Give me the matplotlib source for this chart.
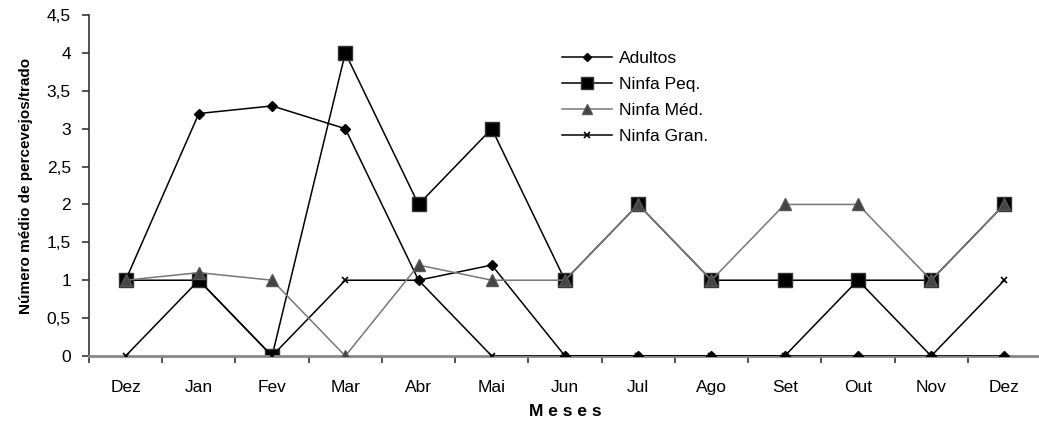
import numpy as np
import matplotlib.pyplot as plt

plt.rcParams['font.family'] = ['Liberation Sans', 'DejaVu Sans']

meses = ['Dez', 'Jan', 'Fev', 'Mar', 'Abr', 'Mai', 'Jun', 'Jul', 'Ago', 'Set', 'Out', 'Nov', 'Dez']
adultos = [1, 3.2, 3.3, 3.0, 1.0, 1.2, 0, 0, 0, 0, 0, 0, 0]
ninfa_peq = [1, 1, 0, 4, 2, 3, 1, 2, 1, 1, 1, 1, 2]
ninfa_med = [1, 1.1, 1, 0, 1.2, 1, 1, 2, 1, 2, 2, 1, 2]
ninfa_gran = [0, 1, 0, 1, 1, 0, 0, 0, 0, 0, 1, 0, 1]
yticks = [0, 0.5, 1, 1.5, 2, 2.5, 3, 3.5, 4, 4.5]
ytick_labels = ['0', '0,5', '1', '1,5', '2', '2,5', '3', '3,5', '4', '4,5']

fig = plt.figure(figsize=(10.39, 4.32), dpi=100)
ax = fig.add_axes([89 / 1039, 76 / 432, 952 / 1039, 341 / 432])

x = np.arange(len(meses))
ax.plot(x, adultos, color='black', lw=1.1, marker='D', ms=5, mfc='black', mec='black',
        label='Adultos', zorder=3)
ax.plot(x, ninfa_peq, color='black', lw=1.1, marker='s', ms=10, mfc='black', mec='#333333',
        label='Ninfa Peq.', zorder=2)
ax.plot(x, ninfa_med, color='#777777', lw=1.1, marker='^', ms=8, mfc='#444444', mec='#555555',
        label='Ninfa Méd.', zorder=4)
ax.plot(x, ninfa_gran, color='black', lw=1.1, marker='x', ms=5, mew=1.2, mec='black',
        label='Ninfa Gran.', zorder=3)

ax.set_xlim(-0.5, len(meses) - 0.5)
ax.set_ylim(0, 4.5)
ax.set_xticks(x)
ax.set_xticklabels(meses, fontsize=12.5)
ax.set_xticks(np.arange(-0.5, len(meses), 1), minor=True)
ax.tick_params(axis='x', which='major', length=0, pad=17)
ax.tick_params(axis='x', which='minor', length=5, width=1.2, color='#333333', direction='out')
ax.set_yticks(yticks)
ax.set_yticklabels(ytick_labels, fontsize=12.5)
ax.tick_params(axis='y', length=5, width=1.2, color='#333333', direction='out', pad=8)

for s in ['top', 'right']:
    ax.spines[s].set_visible(False)
ax.spines['left'].set_color('#333333')
ax.spines['left'].set_linewidth(1.2)
ax.spines['bottom'].set_color('#888888')
ax.spines['bottom'].set_linewidth(2)

ax.set_xlabel('M e s e s', fontsize=12.5, fontweight='bold', labelpad=7)
ax.set_ylabel('Número médio de percevejos/trado', fontsize=11, fontweight='bold', labelpad=10)

ax.legend(loc='upper left', bbox_to_anchor=(0.48, 0.94), frameon=False, fontsize=12.5,
          handlelength=2.9, labelspacing=0.62, handletextpad=0.4, markerscale=0.9)

fig.savefig('out.png', dpi=100)
